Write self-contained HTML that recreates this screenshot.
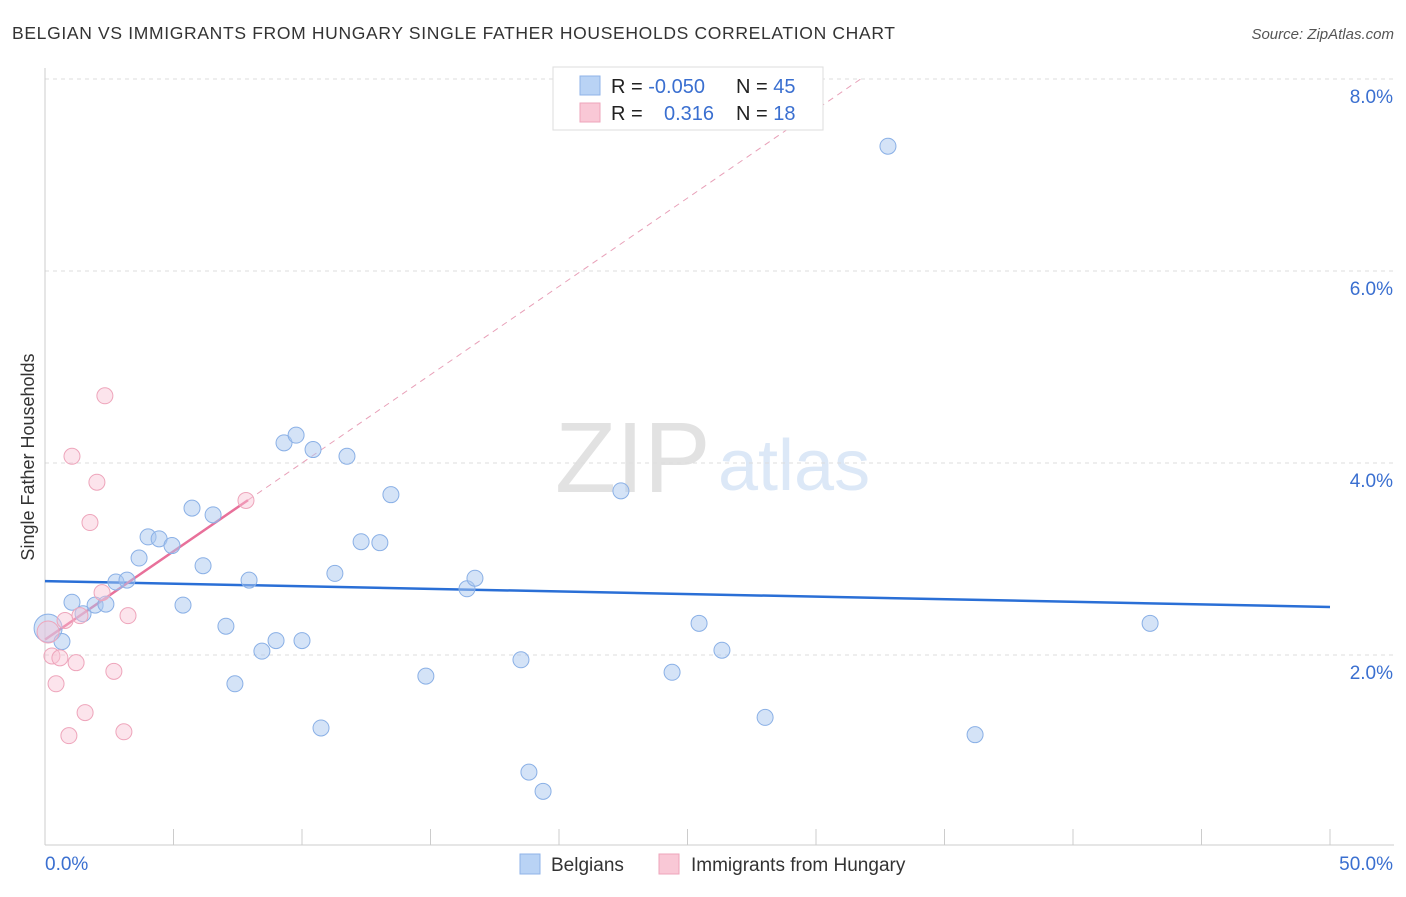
<!DOCTYPE html>
<html><head><meta charset="utf-8"><style>
body{margin:0;background:#fff;font-family:"Liberation Sans",sans-serif;}
svg text{font-family:"Liberation Sans",sans-serif;}
</style></head><body>
<svg id="chart" width="1406" height="892">
<text x="12" y="39" font-size="17.5" fill="#333" textLength="883">BELGIAN VS IMMIGRANTS FROM HUNGARY SINGLE FATHER HOUSEHOLDS CORRELATION CHART</text>
<text x="1394" y="39" font-size="15" fill="#555" text-anchor="end" font-style="italic">Source: ZipAtlas.com</text>
<text x="555" y="492" font-size="100" fill="#e2e2e2" font-family="Liberation Serif">ZIP</text>
<text x="718" y="490" font-size="72" fill="#dce8f7">atlas</text>
<g id="grid"></g><g id="axes"></g><g id="lines"></g><g id="pts"></g>
<text transform="translate(34,457) rotate(-90)" font-size="18" fill="#333" text-anchor="middle">Single Father Households</text>
<g>
<rect x="553" y="67" width="270" height="63" fill="#fff" stroke="#ddd"/>
<rect x="580" y="76" width="20" height="19" fill="#b9d3f5" stroke="#8fb3e8"/>
<rect x="580" y="103" width="20" height="19" fill="#f9c8d6" stroke="#eea5bb"/>
<text x="611" y="93" font-size="20" fill="#222">R = <tspan fill="#3a6fd0">-0.050</tspan></text>
<text x="736" y="93" font-size="20" fill="#222">N = <tspan fill="#3a6fd0">45</tspan></text>
<text x="611" y="120" font-size="20" fill="#222">R = </text>
<text x="664" y="120" font-size="20" fill="#3a6fd0">0.316</text>
<text x="736" y="120" font-size="20" fill="#222">N = <tspan fill="#3a6fd0"> 18</tspan></text>
</g>
<g>
<rect x="520" y="854" width="20" height="20" fill="#b9d3f5" stroke="#8fb3e8"/>
<text x="551" y="871" font-size="19" fill="#333">Belgians</text>
<rect x="659" y="854" width="20" height="20" fill="#f9c8d6" stroke="#eea5bb"/>
<text x="691" y="871" font-size="19" fill="#333">Immigrants from Hungary</text>
</g>
</svg>
<script>
const xTicks=[0,5,10,15,20,25,30,35,40,45,50];
const yTicks=[2,4,6,8];
const blueX=[0.12,0.66,1.05,1.48,1.95,2.37,2.76,3.19,3.66,4.01,4.44,4.94,5.37,5.72,6.15,6.54,7.04,7.39,7.94,8.44,8.99,9.30,9.77,10.0,10.43,10.74,11.28,11.75,12.30,13.03,13.46,14.82,16.42,16.73,18.52,18.83,19.38,22.41,24.40,25.45,26.34,28.02,32.80,36.19,43.0];
const blueY=[2.28,2.14,2.55,2.43,2.52,2.53,2.76,2.78,3.01,3.23,3.21,3.14,2.52,3.53,2.93,3.46,2.30,1.70,2.78,2.04,2.15,4.21,4.29,2.15,4.14,1.24,2.85,4.07,3.18,3.17,3.67,1.78,2.69,2.80,1.95,0.78,0.58,3.71,1.82,2.33,2.05,1.35,7.30,1.17,2.33];
const pinkX=[0.12,0.27,0.43,0.58,0.93,1.05,1.21,1.56,1.75,2.02,2.22,2.33,2.68,3.07,3.23,7.82,1.36,0.78];
const pinkY=[2.24,1.99,1.70,1.97,1.16,4.07,1.92,1.40,3.38,3.80,2.65,4.70,1.83,1.20,2.41,3.61,2.41,2.36];
const blueTrend=[2.77,2.50];   // y at x=0 and x=50
const pinkTrend=[2.16,0.184];  // intercept, slope
const X=v=>45+v*25.7, Y=v=>847-v*96;
const NS="http://www.w3.org/2000/svg";
function mk(p,t,a){const e=document.createElementNS(NS,t);for(const k in a)e.setAttribute(k,a[k]);document.getElementById(p).appendChild(e);return e;}
yTicks.forEach(v=>{
 const l=mk('grid','line',{x1:45,x2:1394,y1:Y(v),y2:Y(v),stroke:'#ddd','stroke-dasharray':'4,4'});
 
 
 const t=mk('grid','text',{x:1393,y:Y(v)+24,'font-size':19,fill:'#3a6fd0','text-anchor':'end'});t.textContent=v.toFixed(1)+'%';
 
 
});
mk('axes','line',{x1:45,x2:45,y1:68,y2:845,stroke:'#ccc'});
mk('axes','line',{x1:45,x2:1394,y1:845,y2:845,stroke:'#ccc'});
xTicks.forEach(v=>{const l=mk('axes','line',{x1:X(v),x2:X(v),y1:829,y2:845,stroke:'#ccc'});
 
 });
[[0,'start'],[50,'end']].forEach(([v,a])=>{const t=mk('axes','text',{x:v?1393:45,y:870,'font-size':19,fill:'#3a6fd0','text-anchor':a});t.textContent=v.toFixed(1)+'%';
 
 });
const bl=mk('lines','line',{x1:X(0),y1:Y(blueTrend[0]),x2:X(50),y2:Y(blueTrend[1]),stroke:'#2a6fd6','stroke-width':2.5});


const xe=(8-pinkTrend[0])/pinkTrend[1];
const pd=mk('lines','line',{x1:X(7.9),y1:Y(pinkTrend[0]+pinkTrend[1]*7.9),x2:X(xe),y2:Y(8),stroke:'#e8a0b8','stroke-width':1,'stroke-dasharray':'6,5'});


const pl=mk('lines','line',{x1:X(0),y1:Y(pinkTrend[0]),x2:X(7.9),y2:Y(pinkTrend[0]+pinkTrend[1]*7.9),stroke:'#e8709a','stroke-width':2.5});


blueX.forEach((x,i)=>{const c=mk('pts','circle',{cx:X(x),cy:Y(blueY[i]),r:i==0?14:8,fill:'rgba(170,200,240,0.5)',stroke:'#8ab0e6','stroke-width':1});
 
 });
pinkX.forEach((x,i)=>{const c=mk('pts','circle',{cx:X(x),cy:Y(pinkY[i]),r:i==0?11:8,fill:'rgba(248,195,212,0.45)',stroke:'#eea5bb','stroke-width':1});
 
 });
</script>
</body></html>
